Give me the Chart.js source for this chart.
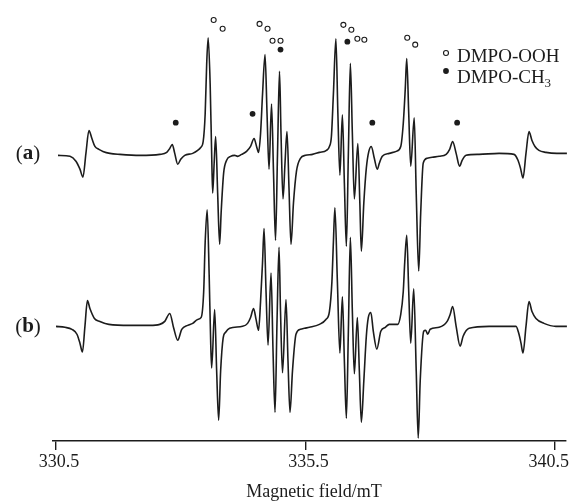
<!DOCTYPE html>
<html>
<head>
<meta charset="utf-8">
<script src="https://cdn.jsdelivr.net/npm/chart.js@4.4.1/dist/chart.umd.min.js"></script>
<style>
  html, body { margin: 0; padding: 0; background: #fff; }
  #wrap { width: 571px; height: 501px; }
</style>
</head>
<body>
<div id="wrap"><canvas id="epr" width="571" height="501"></canvas></div>
<script>
// ---- data (field in mT, signal in arbitrary units) ----
const fieldA = [
  330.54, 330.78, 330.90, 330.98, 331.04, 331.10, 331.16, 331.22, 331.28, 331.36,
  331.44, 331.58, 331.78, 332.18, 332.58, 332.72, 332.78, 332.83, 332.88, 332.94,
  333.00, 333.08, 333.24, 333.34, 333.40, 333.45, 333.49, 333.52, 333.55, 333.59,
  333.62, 333.64, 333.67, 333.70, 333.74, 333.78, 333.81, 333.86, 333.92, 334.00,
  334.08, 334.14, 334.22, 334.32, 334.40, 334.47, 334.52, 334.56, 334.60, 334.64,
  334.69, 334.73, 334.77, 334.82, 334.86, 334.90, 334.94, 334.98, 335.01, 335.05,
  335.09, 335.13, 335.17, 335.21, 335.26, 335.32, 335.40, 335.50, 335.64, 335.78,
  335.92, 335.98, 336.02, 336.06, 336.11, 336.15, 336.19, 336.24, 336.28, 336.32,
  336.36, 336.40, 336.44, 336.48, 336.55, 336.59, 336.62, 336.67, 336.72, 336.77,
  336.82, 336.88, 336.94, 336.98, 337.04, 337.18, 337.32, 337.41, 337.46, 337.50,
  337.53, 337.57, 337.61, 337.68, 337.72, 337.77, 337.81, 337.86, 337.94, 338.04,
  338.18, 338.32, 338.39, 338.45, 338.52, 338.59, 338.64, 338.72, 338.98, 339.38,
  339.68, 339.76, 339.81, 339.86, 339.92, 339.98, 340.04, 340.10, 340.18, 340.32,
  340.54, 340.74
];
const signalA = [
  -1, -2, -7, -15, -23, 1, 24, 16, 8, 5,
  3, 1, 0, -1, 0, 2, 6, 10, 1, -10,
  -5, -1, 1, 4, 7, 13, 41, 91, 118, 71,
  1, -39, -9, 18, -39, -91, -59, -19, -6, -2,
  -1, -2, 0, 3, 8, 16, 8, 2, 21, 61,
  101, 41, -15, 51, -19, -87, 1, 84, 21, -45,
  -9, 23, -34, -91, -49, -17, -4, -1, 0, 2,
  4, 8, 18, 61, 117, 41, -21, 40, -29, -93,
  1, 92, 21, -45, 11, -49, -98, -49, -14, 3,
  8, -4, -15, -9, -2, 1, 3, 8, 31, 66,
  97, 41, -12, 37, -39, -118, -59, -9, -4, -3,
  -2, 0, 5, 13, 1, -12, -6, -1, 0, 1,
  0, -6, -14, -24, 1, 23, 14, 8, 4, 2,
  1, 1
];

const fieldB = [
  330.50, 330.68, 330.82, 330.92, 330.98, 331.03, 331.08, 331.13, 331.18, 331.27,
  331.38, 331.56, 331.98, 332.38, 332.58, 332.68, 332.78, 332.86, 332.94, 333.02,
  333.14, 333.24, 333.34, 333.41, 333.46, 333.49, 333.53, 333.57, 333.60, 333.62,
  333.68, 333.72, 333.76, 333.80, 333.85, 333.90, 333.98, 334.24, 334.34, 334.40,
  334.46, 334.51, 334.56, 334.60, 334.64, 334.67, 334.71, 334.75, 334.81, 334.85,
  334.89, 334.93, 334.97, 335.00, 335.04, 335.11, 335.15, 335.19, 335.24, 335.31,
  335.40, 335.48, 335.58, 335.78, 335.91, 335.98, 336.03, 336.06, 336.09, 336.14,
  336.19, 336.24, 336.28, 336.32, 336.36, 336.40, 336.44, 336.48, 336.54, 336.58,
  336.62, 336.67, 336.72, 336.76, 336.81, 336.86, 336.93, 337.01, 337.10, 337.18,
  337.35, 337.41, 337.46, 337.49, 337.53, 337.57, 337.61, 337.67, 337.72, 337.76,
  337.80, 337.87, 337.91, 337.95, 338.00, 338.18, 338.34, 338.40, 338.45, 338.52,
  338.60, 338.66, 338.78, 339.18, 339.72, 339.78, 339.82, 339.86, 339.92, 339.98,
  340.04, 340.12, 340.28, 340.52, 340.74
];
const signalB = [
  -1, -2, -4, -9, -18, -27, -1, 25, 17, 7,
  4, 1, 0, 0, 1, 4, 12, -3, -15, -4,
  0, 2, 6, 8, 34, 84, 117, 51, -16, -43,
  16, -46, -96, -46, -13, -7, -3, -1, 2, 8,
  17, 6, -5, 24, 64, 98, 34, -20, 53, -26,
  -88, 4, 79, 14, -48, 26, -36, -88, -46, -9,
  -4, -3, -2, 1, 6, 14, 44, 84, 119, 44,
  -28, 29, -36, -94, -6, 89, 14, -49, 8, -46,
  -98, -56, -11, 8, 13, -6, -24, -6, -2, 1,
  1, 11, 34, 64, 91, 34, -18, 37, -46, -114,
  -56, -6, -5, -9, -4, -2, 4, 11, 19, -1,
  -21, -11, -3, -1, -1, -9, -18, -28, -1, 24,
  14, 7, 2, -1, -1
];

// peak markers (field, height above axis)
const oohField  = [333.66, 333.84, 334.58, 334.74, 334.84, 335.00, 336.26, 336.42, 336.54, 336.68, 337.54, 337.70];
const oohHeight = [426, 417, 422, 417, 405, 405, 421, 416, 407, 406, 408, 401];
const ch3Field  = [335.00, 336.34, 332.90, 334.44, 336.84, 338.54];
const ch3Height = [396, 404, 322, 331, 322, 322];

const tickValues = [330.5, 335.5, 340.5];
const tickLabels = ['330.5', '335.5', '340.5'];

// ---- styling ----
const INK = '#1c1c1c';
const SERIF = '"Liberation Serif", "DejaVu Serif", serif';
const OFFSET_A = 290;   // stacking of trace (a)
const OFFSET_B = 117;   // stacking of trace (b)

const pairs = (xs, ys, off = 0) => xs.map((x, i) => ({ x, y: ys[i] + off }));

function trace(data) {
  return {
    data,
    borderColor: INK,
    borderWidth: 1.6,
    pointRadius: 0,
    fill: false,
    cubicInterpolationMode: 'monotone',
    clip: false
  };
}

// text, legend and tick labels drawn over the chart
const overlay = {
  id: 'overlay',
  afterDraw(chart) {
    const { ctx, scales: { x } } = chart;
    ctx.save();
    ctx.fillStyle = INK;
    ctx.strokeStyle = INK;
    ctx.textBaseline = 'middle';

    // tick labels
    ctx.font = `18px ${SERIF}`;
    ctx.textAlign = 'center';
    tickValues.forEach((v, i) => {
      const w = ctx.measureText(tickLabels[i]).width;
      let cx = x.getPixelForValue(v) + 3;
      cx = Math.min(cx, chart.width - 2 - w / 2);
      ctx.fillText(tickLabels[i], cx, 462);
    });

    // axis title
    ctx.fillText('Magnetic field/mT', 314, 492);

    // panel labels
    const panel = (letter, cx, cy) => {
      const reg = `21px ${SERIF}`, bold = `bold 21px ${SERIF}`;
      ctx.font = reg;  const wp = ctx.measureText('(').width, wq = ctx.measureText(')').width;
      ctx.font = bold; const wl = ctx.measureText(letter).width;
      let left = cx - (wp + wl + wq) / 2;
      ctx.textAlign = 'left';
      ctx.font = reg;  ctx.fillText('(', left, cy);
      ctx.font = bold; ctx.fillText(letter, left + wp, cy);
      ctx.font = reg;  ctx.fillText(')', left + wp + wl, cy);
    };
    panel('a', 28, 154);
    panel('b', 28, 327);

    // legend
    ctx.lineWidth = 1.1;
    ctx.beginPath();
    ctx.arc(446, 53, 2.5, 0, Math.PI * 2);
    ctx.fillStyle = '#fff'; ctx.fill(); ctx.stroke();
    ctx.fillStyle = INK;
    ctx.beginPath();
    ctx.arc(446, 71, 2.9, 0, Math.PI * 2);
    ctx.fill();

    ctx.textAlign = 'left';
    ctx.font = `19px ${SERIF}`;
    ctx.fillText('DMPO-OOH', 457, 57);
    ctx.fillText('DMPO-CH', 457, 78);
    const wCH = ctx.measureText('DMPO-CH').width;
    ctx.font = `13px ${SERIF}`;
    ctx.fillText('3', 457 + wCH, 84);
    ctx.restore();
  }
};

new Chart(document.getElementById('epr'), {
  type: 'line',
  data: {
    datasets: [
      trace(pairs(fieldA, signalA, OFFSET_A)),
      trace(pairs(fieldB, signalB, OFFSET_B)),
      {
        type: 'scatter',
        data: pairs(oohField, oohHeight),
        pointStyle: 'circle',
        pointRadius: 2.5,
        borderWidth: 1.1,
        borderColor: INK,
        backgroundColor: '#fff',
        showLine: false,
        clip: false
      },
      {
        type: 'scatter',
        data: pairs(ch3Field, ch3Height),
        pointStyle: 'circle',
        pointRadius: 2.9,
        borderWidth: 0,
        backgroundColor: INK,
        showLine: false,
        clip: false
      }
    ]
  },
  options: {
    responsive: false,
    devicePixelRatio: 1,
    animation: false,
    layout: { padding: { left: 53, right: 4, top: 0, bottom: 51 } },
    plugins: { legend: { display: false }, tooltip: { enabled: false } },
    scales: {
      x: {
        type: 'linear',
        min: 330.44,
        max: 340.72,
        afterBuildTicks: s => { s.ticks = tickValues.map(v => ({ value: v })); },
        ticks: { display: false },
        grid: { display: true, drawOnChartArea: false, drawTicks: true, tickLength: 9, color: INK, lineWidth: 1.4 },
        border: { display: true, color: INK, width: 1.4 }
      },
      y: { display: false, min: 0, max: 441 }
    }
  },
  plugins: [overlay]
});
</script>
</body>
</html>
